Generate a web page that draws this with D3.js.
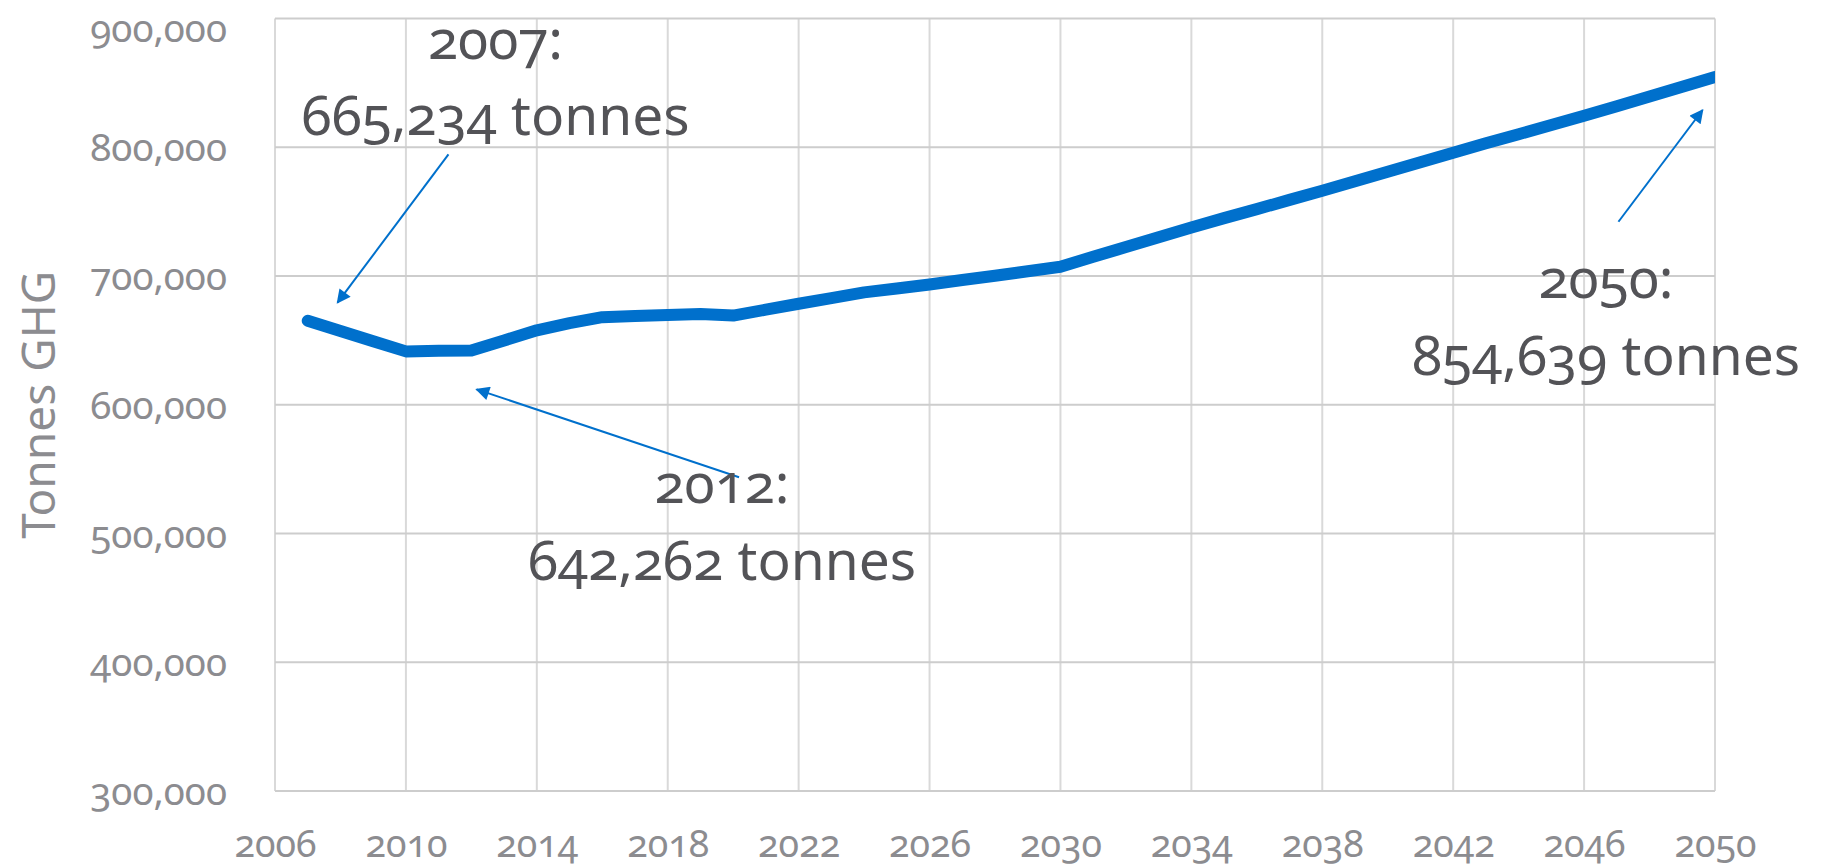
<!DOCTYPE html>
<html>
<head>
<meta charset="utf-8">
<script src="https://cdn.jsdelivr.net/npm/d3@7"></script>
<style>
  html, body { margin: 0; padding: 0; background: #ffffff; }
  svg { display: block; }
  text { font-family: "Noto Sans", Lato, sans-serif; font-variant-numeric: oldstyle-nums; font-feature-settings: "onum" 1; }
</style>
</head>
<body>
<svg id="chart" width="1821" height="868"></svg>
<script>
// ---- data ----
const years = [2007,2008,2009,2010,2011,2012,2013,2014,2015,2016,2017,2018,2019,2020,
  2021,2022,2023,2024,2025,2026,2027,2028,2029,2030,2031,2032,2033,2034,2035,2036,
  2037,2038,2039,2040,2041,2042,2043,2044,2045,2046,2047,2048,2049,2050];
const emissions = [665234,657300,649400,641500,641900,642262,650000,657900,663400,668100,
  669000,669700,670500,669300,673900,678500,682900,687300,690400,693500,696900,700300,
  703700,707200,715000,722500,730200,737800,745000,752000,759200,766300,773700,781000,
  788500,795800,803200,810200,817400,824600,832000,839400,847000,854639];
const xTicks = [2006,2010,2014,2018,2022,2026,2030,2034,2038,2042,2046,2050];
const yTicks = [300000,400000,500000,600000,700000,800000,900000];
const yTitle = "Tonnes GHG";
const annotationLines = [
  ["2007:", "665,234 tonnes"],
  ["2012:", "642,262 tonnes"],
  ["2050:", "854,639 tonnes"]
];

// ---- layout (in data space, mapped through the scales) ----
const annotationLayout = [
  { tx: 2012.74, ty: 816000, from: [2011.30, 794600], to: [2007.91, 679300] },
  { tx: 2019.66, ty: 463900, from: [2020.18, 543700], to: [2012.16, 612000] },
  { tx: 2046.67, ty: 623100, from: [2047.05, 742200], to: [2049.62, 829000] }
];

const W = 1821, H = 868;
const ASC = 1.07, DESC = 0.293;   // Noto Sans ascent / descent (em)
const svg = d3.select("#chart");
const plot = { left: 275, right: 1715, top: 18.6, bottom: 791 };

const x = d3.scaleLinear().domain([2006, 2050]).range([plot.left, plot.right]);
const y = d3.scaleLinear().domain([300000, 900000]).range([plot.bottom, plot.top]);

// gridlines
const grid = svg.append("g");
grid.selectAll("line.v").data(xTicks).join("line")
  .attr("x1", d => x(d)).attr("x2", d => x(d))
  .attr("y1", plot.top).attr("y2", plot.bottom)
  .attr("stroke", "#d9d9d9").attr("stroke-width", 2);
grid.selectAll("line.h").data(yTicks).join("line")
  .attr("x1", plot.left).attr("x2", plot.right)
  .attr("y1", d => y(d)).attr("y2", d => y(d))
  .attr("stroke", "#cdcdcd").attr("stroke-width", 2);

// y axis labels
const yFont = 38.5;
const yAxis = d3.axisLeft(y).tickValues(yTicks).tickFormat(d3.format(",")).tickSize(0).tickPadding(48);
const gy = svg.append("g").attr("transform", `translate(${plot.left},0)`).call(yAxis);
gy.select(".domain").remove();
gy.selectAll(".tick").attr("transform", null);
gy.selectAll(".tick text")
  .attr("font-size", yFont).attr("fill", "#8c8c90")
  .attr("font-family", "'Noto Sans', Lato, sans-serif")
  .attr("dy", null)
  .attr("y", d => Math.max(y(d) + 14, yFont * ASC + 0.5));

// x axis labels
const xFont = 37.5;
const xAxis = d3.axisBottom(x).tickValues(xTicks).tickFormat(d3.format("d")).tickSize(0);
const gx = svg.append("g").attr("transform", `translate(0,${plot.bottom})`).call(xAxis);
gx.select(".domain").remove();
gx.selectAll(".tick text")
  .attr("font-size", xFont).attr("fill", "#8c8c90")
  .attr("font-family", "'Noto Sans', Lato, sans-serif")
  .attr("dy", null)
  .attr("y", Math.min(68, H - plot.bottom - xFont * DESC - 0.5));

// y axis title
svg.append("text")
  .attr("transform", `translate(55,${(plot.top + plot.bottom) / 2}) rotate(-90)`)
  .attr("text-anchor", "middle")
  .attr("font-size", 46)
  .attr("fill", "#8c8c90")
  .text(yTitle);

// clip for line
svg.append("clipPath").attr("id", "plotclip").append("rect")
  .attr("x", plot.left - 20).attr("y", 0)
  .attr("width", plot.right - plot.left + 20).attr("height", H);

const line = d3.line().x((d, i) => x(years[i])).y(d => y(d));
svg.append("path")
  .datum(emissions)
  .attr("d", line)
  .attr("fill", "none")
  .attr("stroke", "#0070cc")
  .attr("stroke-width", 12)
  .attr("stroke-linecap", "round")
  .attr("stroke-linejoin", "round")
  .attr("clip-path", "url(#plotclip)");

// arrow marker
svg.append("defs").append("marker")
  .attr("id", "arrowhead")
  .attr("viewBox", "0 0 10 10")
  .attr("refX", 9).attr("refY", 5)
  .attr("markerWidth", 16).attr("markerHeight", 14)
  .attr("markerUnits", "userSpaceOnUse")
  .attr("orient", "auto")
  .append("path").attr("d", "M0,0 L10,5 L0,10 Z").attr("fill", "#0070cc");

// annotations: second line anchored at ty, first line above it
const annFont = 55;
const lineBox = annFont * (ASC + DESC) + 0.5;
const ann = svg.append("g");
annotationLayout.forEach((a, i) => {
  ann.append("line")
    .attr("x1", x(a.from[0])).attr("y1", y(a.from[1]))
    .attr("x2", x(a.to[0])).attr("y2", y(a.to[1]))
    .attr("stroke", "#0070cc").attr("stroke-width", 2)
    .attr("marker-end", "url(#arrowhead)");
  const y1 = Math.max(y(a.ty) - 76.7, annFont * ASC + 0.5);
  const y2 = Math.max(y(a.ty), y1 + lineBox);
  [[annotationLines[i][0], y1], [annotationLines[i][1], y2]].forEach(([s, yy]) => {
    ann.append("text")
      .attr("x", x(a.tx)).attr("y", yy)
      .attr("text-anchor", "middle")
      .attr("font-size", annFont)
      .attr("fill", "#535357")
      .text(s);
  });
});
</script>
</body>
</html>
